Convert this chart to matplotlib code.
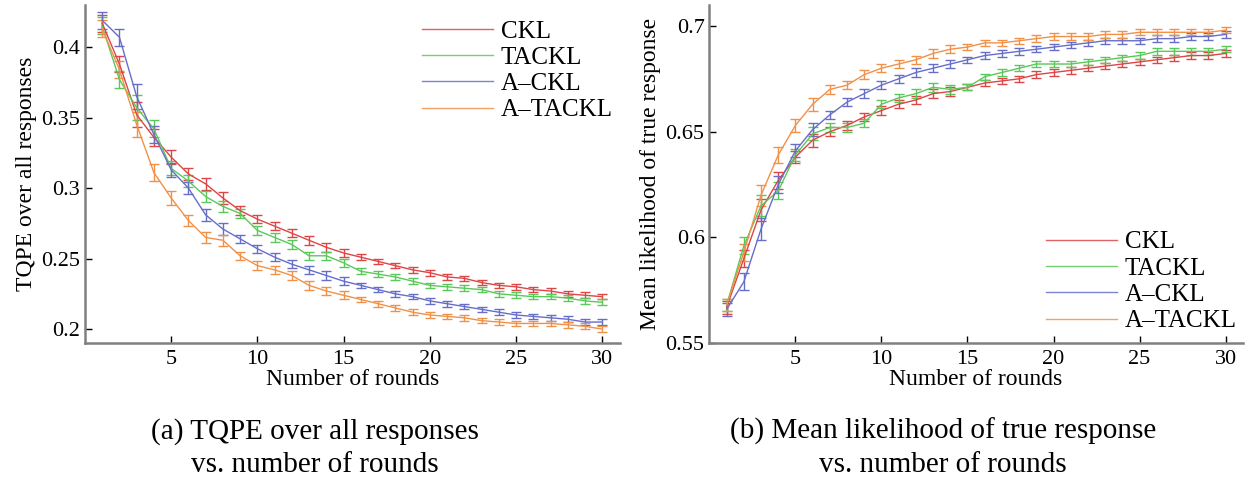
import matplotlib
matplotlib.use("Agg")
import matplotlib.pyplot as plt
from matplotlib.lines import Line2D
import numpy as np

plt.rcParams['font.family'] = ['Liberation Serif', 'DejaVu Serif']

rounds = np.arange(1, 31)
names = ['CKL', 'TACKL', 'A\u2013CKL', 'A\u2013TACKL']
colors = ['#dc4646', '#5ac85a', '#666ec8', '#f0914a']

# (a) TQPE over all responses
tqpe_ckl = [0.417, 0.388, 0.352, 0.336, 0.322, 0.310, 0.303, 0.293, 0.284, 0.278,
            0.273, 0.268, 0.263, 0.258, 0.254, 0.251, 0.248, 0.245, 0.242, 0.240,
            0.237, 0.236, 0.233, 0.231, 0.230, 0.228, 0.227, 0.225, 0.224, 0.223]
tqpe_tackl = [0.415, 0.377, 0.357, 0.342, 0.314, 0.305, 0.294, 0.287, 0.282, 0.270,
              0.265, 0.260, 0.252, 0.252, 0.247, 0.241, 0.239, 0.237, 0.234, 0.231,
              0.230, 0.229, 0.228, 0.225, 0.224, 0.223, 0.223, 0.222, 0.220, 0.219]
tqpe_ackl = [0.419, 0.407, 0.365, 0.338, 0.313, 0.300, 0.281, 0.271, 0.264, 0.257,
             0.251, 0.246, 0.242, 0.238, 0.234, 0.231, 0.228, 0.225, 0.223, 0.220,
             0.218, 0.216, 0.214, 0.212, 0.210, 0.209, 0.208, 0.207, 0.205, 0.205]
tqpe_atackl = [0.413, 0.384, 0.345, 0.311, 0.293, 0.277, 0.265, 0.263, 0.252, 0.245,
               0.242, 0.238, 0.231, 0.227, 0.224, 0.221, 0.218, 0.215, 0.212, 0.210,
               0.209, 0.208, 0.206, 0.205, 0.204, 0.204, 0.204, 0.203, 0.202, 0.200]
tqpe_err = [0.006, 0.006, 0.009, 0.006, 0.005, 0.004, 0.004, 0.004, 0.003, 0.003,
            0.003, 0.003, 0.003, 0.003, 0.003, 0.002, 0.002, 0.002, 0.002, 0.002,
            0.002, 0.002, 0.002, 0.002, 0.002, 0.002, 0.002, 0.002, 0.002, 0.002]

# (b) Mean likelihood of true response
lik_ckl = [0.567, 0.590, 0.613, 0.627, 0.638, 0.646, 0.650, 0.653, 0.657, 0.660,
           0.663, 0.665, 0.668, 0.669, 0.671, 0.673, 0.674, 0.675, 0.677, 0.678,
           0.679, 0.680, 0.681, 0.682, 0.683, 0.684, 0.685, 0.686, 0.686, 0.687]
lik_tackl = [0.568, 0.596, 0.615, 0.622, 0.639, 0.649, 0.652, 0.652, 0.654, 0.663,
             0.666, 0.668, 0.671, 0.670, 0.671, 0.676, 0.678, 0.680, 0.682, 0.682,
             0.682, 0.683, 0.684, 0.685, 0.686, 0.688, 0.688, 0.688, 0.688, 0.689]
lik_ackl = [0.566, 0.579, 0.604, 0.625, 0.641, 0.651, 0.658, 0.664, 0.668, 0.672,
            0.675, 0.678, 0.680, 0.682, 0.684, 0.686, 0.687, 0.688, 0.689, 0.690,
            0.691, 0.692, 0.693, 0.693, 0.693, 0.694, 0.694, 0.695, 0.695, 0.696]
lik_atackl = [0.568, 0.593, 0.620, 0.639, 0.653, 0.663, 0.670, 0.672, 0.677, 0.680,
              0.682, 0.684, 0.687, 0.689, 0.690, 0.692, 0.692, 0.693, 0.694, 0.695,
              0.695, 0.695, 0.696, 0.696, 0.697, 0.697, 0.697, 0.697, 0.697, 0.698]
lik_err = [0.003, 0.004, 0.005, 0.004, 0.003, 0.003, 0.002, 0.002, 0.002, 0.002,
           0.002, 0.002, 0.002, 0.002, 0.0015, 0.0015, 0.0015, 0.0015, 0.0015, 0.0015,
           0.0015, 0.0015, 0.0015, 0.0015, 0.0015, 0.0015, 0.0015, 0.0015, 0.0015, 0.0015]

fig = plt.figure(figsize=(12.49, 4.8), dpi=100)
ax1 = fig.add_axes([0.068, 0.285, 0.428, 0.705])
ax2 = fig.add_axes([0.568, 0.285, 0.427, 0.705])

def draw(ax, series, err, ylim, yticks, ylabel, legend_anchor):
    for vals, name, c in zip(series, names, colors):
        ax.errorbar(rounds, vals, yerr=err, color=c, lw=1.0, elinewidth=1.0,
                    capsize=3.5, capthick=1.0)
    ax.set_xlim(0, 31)
    ax.set_ylim(*ylim)
    ax.set_xticks([5, 10, 15, 20, 25, 30])
    ax.set_yticks(yticks)
    ax.set_yticklabels([('%g' % t) for t in yticks])
    for s in ['top', 'right']:
        ax.spines[s].set_visible(False)
    for s in ['left', 'bottom']:
        ax.spines[s].set_color('#808080')
        ax.spines[s].set_linewidth(1.8)
    ax.tick_params(direction='in', length=5, labelsize=16, width=1)
    ax.tick_params(axis='x', pad=5)
    ax.set_xlabel('Number of rounds', fontsize=17, labelpad=0)
    ax.set_ylabel(ylabel, fontsize=17, labelpad=3)
    handles = [Line2D([], [], color=c, lw=1.0, alpha=0.85) for c in colors]
    ax.legend(handles, names, loc='upper left', bbox_to_anchor=legend_anchor,
              bbox_transform=fig.transFigure, frameon=False, fontsize=18,
              handlelength=2.85, labelspacing=0.15, handletextpad=0.3,
              borderpad=0, borderaxespad=0)

draw(ax1, [tqpe_ckl, tqpe_tackl, tqpe_ackl, tqpe_atackl], tqpe_err,
     (0.19, 0.43), [0.2, 0.25, 0.3, 0.35, 0.4], 'TQPE over all responses',
     (422 / 1249, 1 - 20 / 480))
draw(ax2, [lik_ckl, lik_tackl, lik_ackl, lik_atackl], lik_err,
     (0.55, 0.71), [0.55, 0.6, 0.65, 0.7], 'Mean likelihood of true response',
     (1046 / 1249, 1 - 231 / 480))

fig.text(0.252, 0.066, '(a) TQPE over all responses\nvs. number of rounds',
         ha='center', va='center', fontsize=21, linespacing=1.35)
fig.text(0.755, 0.066, '(b) Mean likelihood of true response\nvs. number of rounds',
         ha='center', va='center', fontsize=21, linespacing=1.35)

fig.savefig('out.png', dpi=100)
